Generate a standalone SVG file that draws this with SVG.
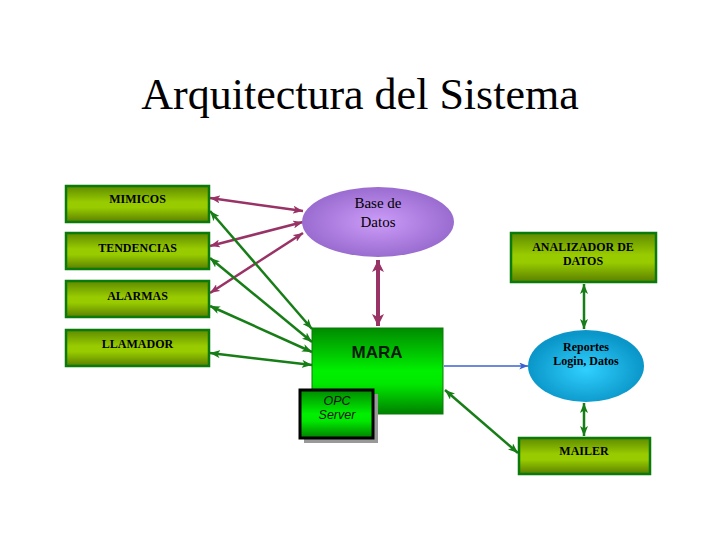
<svg xmlns="http://www.w3.org/2000/svg" width="720" height="540" viewBox="0 0 720 540">
<defs>
<linearGradient id="yg" x1="0" y1="0" x2="0" y2="1">
<stop offset="0" stop-color="#5f8a00"/>
<stop offset="0.45" stop-color="#99cc00"/>
<stop offset="0.6" stop-color="#99cc00"/>
<stop offset="1" stop-color="#5a7f00"/>
</linearGradient>
<linearGradient id="gg" x1="0" y1="0" x2="0" y2="1">
<stop offset="0" stop-color="#008a00"/>
<stop offset="0.5" stop-color="#00f000"/>
<stop offset="0.65" stop-color="#00e800"/>
<stop offset="1" stop-color="#008000"/>
</linearGradient>
<radialGradient id="pg" cx="0.5" cy="0.5" r="0.5">
<stop offset="0" stop-color="#cc9cf8"/>
<stop offset="1" stop-color="#9a6cd0"/>
</radialGradient>
<radialGradient id="cg" cx="0.5" cy="0.55" r="0.5">
<stop offset="0" stop-color="#30d0ff"/>
<stop offset="1" stop-color="#0a96c8"/>
</radialGradient>
<marker id="ag" viewBox="0 0 10 8" refX="10" refY="4" markerWidth="10" markerHeight="8" markerUnits="userSpaceOnUse" orient="auto-start-reverse">
<path d="M0,0 L10,4 L0,8 L2.5,4 z" fill="#177d17"/>
</marker>
<marker id="ap" viewBox="0 0 10 8" refX="10" refY="4" markerWidth="10" markerHeight="8" markerUnits="userSpaceOnUse" orient="auto-start-reverse">
<path d="M0,0 L10,4 L0,8 L2.5,4 z" fill="#993366"/>
</marker>
<marker id="ap2" viewBox="0 0 10 10" refX="10" refY="5" markerWidth="12" markerHeight="12" markerUnits="userSpaceOnUse" orient="auto-start-reverse">
<path d="M0,0 L10,5 L0,10 L2.5,5 z" fill="#993366"/>
</marker>
<marker id="ab" viewBox="0 0 10 8" refX="10" refY="4" markerWidth="9" markerHeight="7" markerUnits="userSpaceOnUse" orient="auto">
<path d="M0,0 L10,4 L0,8 L2.5,4 z" fill="#3b63d0"/>
</marker>
</defs>
<style>
.yb{fill:url(#yg);stroke:#0a7a0a;stroke-width:2.5}
.sf{font-family:'Times New Roman','Liberation Serif','DejaVu Serif',serif}
.lb{font-family:'Times New Roman','Liberation Serif','DejaVu Serif',serif;font-weight:bold;font-size:12px;fill:#000;text-anchor:middle}
.g{stroke:#177d17;stroke-width:2.5;fill:none;marker-start:url(#ag);marker-end:url(#ag)}
.p{stroke:#993366;stroke-width:2.5;fill:none;marker-start:url(#ap);marker-end:url(#ap)}
</style>
<rect width="720" height="540" fill="#fff"/>
<text class="sf" x="360" y="109" font-size="44" text-anchor="middle" fill="#000">Arquitectura del Sistema</text>

<g id="connectors">
<line class="p" x1="210" y1="198" x2="303" y2="211"/>
<line class="p" x1="210" y1="246" x2="303" y2="222"/>
<line class="p" x1="210" y1="293" x2="303" y2="233"/>
<line stroke="#993366" stroke-width="4" x1="378" y1="260" x2="378" y2="326" marker-start="url(#ap2)" marker-end="url(#ap2)"/>
<line class="g" x1="210" y1="211" x2="312" y2="329"/>
<line class="g" x1="210" y1="258" x2="312" y2="342"/>
<line class="g" x1="210" y1="306" x2="312" y2="352"/>
<line class="g" x1="210" y1="353" x2="312" y2="365"/>
<line stroke="#3b63d0" stroke-width="1.5" x1="444" y1="366" x2="528" y2="366" marker-end="url(#ab)"/>
<line class="g" x1="584" y1="284" x2="584" y2="329"/>
<line class="g" x1="584" y1="403" x2="584" y2="436"/>
<line class="g" x1="445" y1="390" x2="518" y2="453"/>
</g>

<g id="mimicos"><rect class="yb" x="66" y="186" width="143" height="36"/><text class="lb" x="137.5" y="203">MIMICOS</text></g>
<g id="tendencias"><rect class="yb" x="66" y="233" width="143" height="36"/><text class="lb" x="137.5" y="252">TENDENCIAS</text></g>
<g id="alarmas"><rect class="yb" x="66" y="281" width="143" height="36"/><text class="lb" x="137.5" y="300">ALARMAS</text></g>
<g id="llamador"><rect class="yb" x="66" y="330" width="143" height="36"/><text class="lb" x="137.5" y="348">LLAMADOR</text></g>

<g id="base-datos"><ellipse cx="378" cy="222" rx="76" ry="35" fill="url(#pg)"/>
<text class="sf" x="378" y="208" font-size="15" text-anchor="middle" fill="#000">Base de</text>
<text class="sf" x="378" y="227" font-size="15" text-anchor="middle" fill="#000">Datos</text></g>

<g id="analizador"><rect class="yb" x="511" y="233" width="145" height="49"/>
<text class="lb" x="583" y="251" font-size="11.5">ANALIZADOR DE</text>
<text class="lb" x="583" y="265" font-size="11.5">DATOS</text></g>

<g id="mara"><rect x="312" y="328" width="131" height="86" fill="url(#gg)" stroke="#0a7a0a" stroke-width="1"/>
<text x="377" y="358" font-family="'Liberation Sans',Arial,sans-serif" font-weight="bold" font-size="17" text-anchor="middle" fill="#0a1a0a">MARA</text></g>

<g id="opc-server"><rect x="304" y="394" width="74" height="49" fill="#999"/>
<rect x="300" y="390" width="73" height="48" fill="url(#gg)" stroke="#000" stroke-width="3"/>
<text x="337" y="405" font-family="'Liberation Sans',Arial,sans-serif" font-style="italic" font-size="12.5" text-anchor="middle" fill="#111">OPC</text>
<text x="337" y="419" font-family="'Liberation Sans',Arial,sans-serif" font-style="italic" font-size="12.5" text-anchor="middle" fill="#111">Server</text></g>

<g id="reportes"><ellipse cx="586" cy="366" rx="58" ry="36" fill="url(#cg)"/>
<text class="lb" x="586" y="351" font-size="11.5" fill="#001030">Reportes</text>
<text class="lb" x="586" y="365" font-size="11.5" fill="#001030">Login, Datos</text></g>

<g id="mailer"><rect class="yb" x="519" y="438" width="131" height="36"/><text class="lb" x="584" y="455" font-size="11.5">MAILER</text></g>
</svg>
